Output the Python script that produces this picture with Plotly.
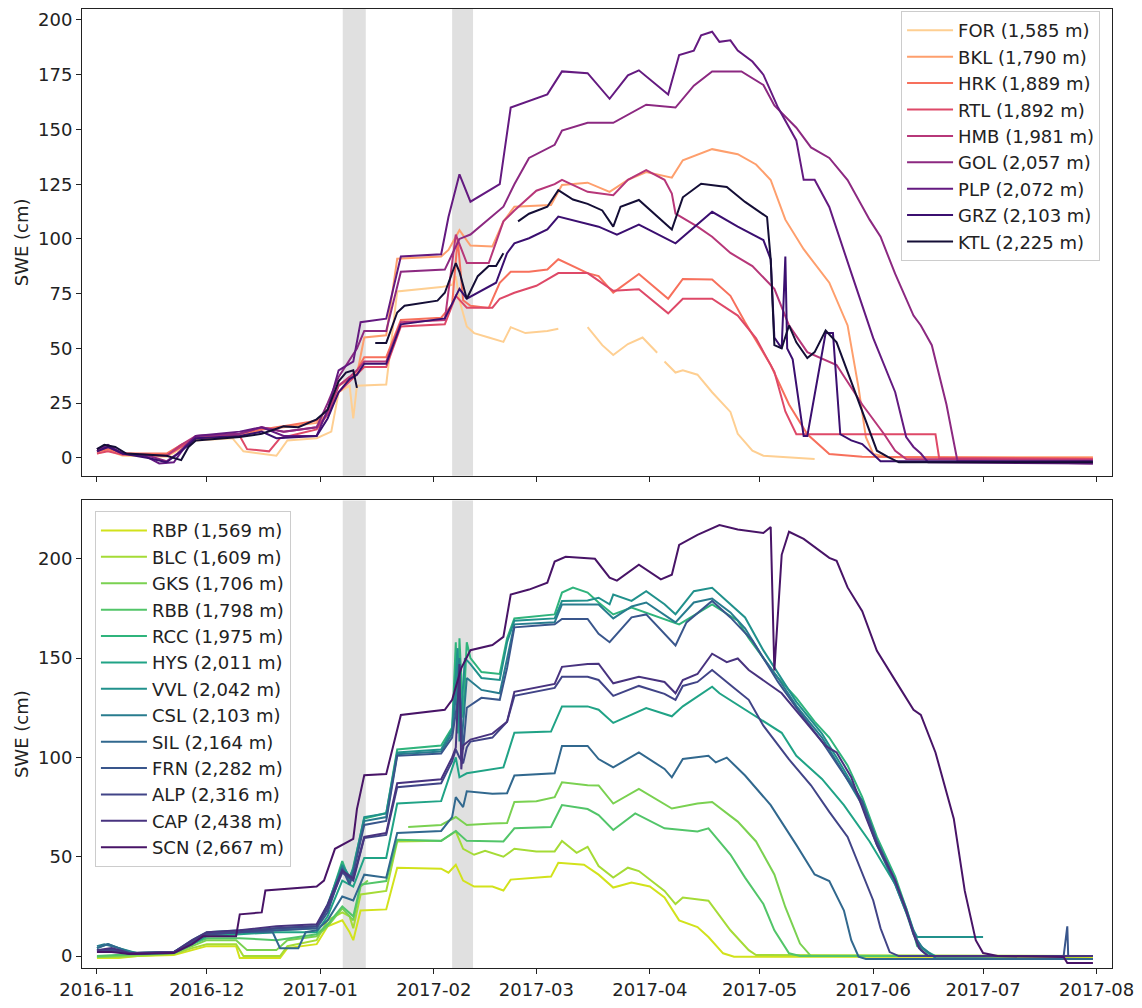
import plotly.graph_objects as go

# ---------------- data ----------------
# Top panel stations
FOR = [("2016-11-01",2),("2016-11-04",3.5),("2016-11-08",1),("2016-11-20",0.5),("2016-11-25",5),("2016-11-28",8),
       ("2016-12-08",9),("2016-12-11",3),("2016-12-20",1),("2016-12-23",8),("2016-12-31",9),
       ("2017-01-04",12),("2017-01-06",30),("2017-01-09",33),("2017-01-10",18),("2017-01-11",33),("2017-01-19",33.5),
       ("2017-01-22",76),("2017-02-03",78),("2017-02-06",79),("2017-02-07",83),("2017-02-08",72),("2017-02-10",60),
       ("2017-02-12",57),("2017-02-16",55),("2017-02-20",53),("2017-02-22",59.7),("2017-02-26",57),("2017-03-04",58),("2017-03-07",59),
       ("2017-03-08",None),("2017-03-15",59.7),("2017-03-19",51.5),("2017-03-22",47),("2017-03-26",52),("2017-03-30",55),("2017-04-03",48),
       ("2017-04-04",None),("2017-04-05",44),("2017-04-08",39),("2017-04-10",40),("2017-04-14",38),("2017-04-18",30),("2017-04-23",21),
       ("2017-04-25",11),("2017-04-29",3.3),("2017-05-02",1),("2017-05-16",-0.5)]
BKL = [("2016-11-01",3),("2016-11-04",4),("2016-11-08",2),("2016-11-20",1.5),("2016-11-24",6),("2016-11-28",9),
       ("2016-12-10",10),("2016-12-16",13),("2016-12-22",14),("2016-12-31",16),
       ("2017-01-03",20),("2017-01-06",33),("2017-01-09",37),("2017-01-11",38),("2017-01-13",55),("2017-01-19",56),
       ("2017-01-22",91),("2017-02-03",92),("2017-02-05",95),("2017-02-08",104),("2017-02-11",97),("2017-02-17",96.6),
       ("2017-02-20",108),("2017-02-23",114.7),("2017-03-05",115.5),("2017-03-08",124.6),("2017-03-15",125.7),("2017-03-21",121.5),
       ("2017-03-26",127),("2017-03-31",130.5),("2017-04-07",128),("2017-04-10",135.9),("2017-04-18",141),("2017-04-25",138.7),
       ("2017-04-30",134),("2017-05-04",126.9),("2017-05-08",108.8),("2017-05-13",95.3),("2017-05-20",80),("2017-05-25",60.5),
       ("2017-05-28",32),("2017-05-30",9.5),("2017-06-01",1.8),("2017-06-05",0.3),("2017-07-31",0.3)]
HRK = [("2016-11-01",3),("2016-11-04",4),("2016-11-09",2),("2016-11-20",2),("2016-11-24",6),("2016-11-28",9),
       ("2016-12-10",11),("2016-12-16",13),("2016-12-24",15),("2016-12-31",17),
       ("2017-01-03",22),("2017-01-06",33),("2017-01-09",36),("2017-01-11",40),("2017-01-13",46),("2017-01-19",46),
       ("2017-01-23",63),("2017-02-03",64),("2017-02-06",70),("2017-02-07 12:00",100),("2017-02-09",72),("2017-02-11",69.5),
       ("2017-02-16",68.5),("2017-02-19",80),("2017-02-22",85),("2017-02-27",85),("2017-03-04",86),("2017-03-07",90.7),
       ("2017-03-15",84.4),("2017-03-18",83),("2017-03-22",75.5),("2017-03-29",84),("2017-04-06",72.7),("2017-04-10",81.7),
       ("2017-04-18",81.5),("2017-04-23",74),("2017-04-27",62),("2017-05-04",42.4),("2017-05-09",24.4),("2017-05-14",10.8),
       ("2017-05-20",1.8),("2017-05-29",0.5),("2017-07-31",-0.3)]
RTL = [("2016-11-01",2),("2016-11-04",3),("2016-11-08",1.5),("2016-11-20",1),("2016-11-24",5),("2016-11-28",9),
       ("2016-12-10",10),("2016-12-12",4),("2016-12-18",3),("2016-12-21",9),("2016-12-31",13),
       ("2017-01-03",20),("2017-01-06",30),("2017-01-09",35),("2017-01-11",38),("2017-01-13",41.5),("2017-01-19",41.5),
       ("2017-01-23",60),("2017-02-04",61),("2017-02-07",74),("2017-02-10",68.6),("2017-02-17",68.6),("2017-02-19",72.7),
       ("2017-02-23",75.4),("2017-03-01",78.6),("2017-03-07",84.4),("2017-03-15",84.4),("2017-03-18",80.8),("2017-03-22",76.3),
       ("2017-03-29",77),("2017-04-06",66),("2017-04-10",72.7),("2017-04-18",72.7),("2017-04-25",65),("2017-04-30",54.6),
       ("2017-05-05",39.3),("2017-05-08",21.2),("2017-05-11",10.8),("2017-06-18",10.8),("2017-06-19",0),("2017-07-31",-0.5)]
HMB = [("2016-11-01",3),("2016-11-04",5),("2016-11-08",2),("2016-11-20",1),("2016-11-24",6),("2016-11-28",10),
       ("2016-12-10",11),("2016-12-16",14),("2016-12-22",12),("2016-12-31",14),
       ("2017-01-03",20),("2017-01-06",33),("2017-01-09",37),("2017-01-11",40),("2017-01-13",44),("2017-01-19",44),
       ("2017-01-23",62),("2017-02-04",63),("2017-02-07",102),("2017-02-10",89),("2017-02-16",89),("2017-02-20",108),
       ("2017-02-23",113),("2017-03-01",122),("2017-03-06",125),("2017-03-08",127),("2017-03-15",121.5),("2017-03-22",120),
       ("2017-03-26",127),("2017-03-31",131.4),("2017-04-05",127),("2017-04-07",120.7),("2017-04-08",111.6),("2017-04-14",105.6),
       ("2017-04-18",101),("2017-04-23",93.6),("2017-04-29",87.6),("2017-05-05",77.2),("2017-05-09",60.5),("2017-05-14",48.3),
       ("2017-05-22",42.4),("2017-05-29",24.4),("2017-06-04",10.8),("2017-06-07",3.3),("2017-06-10",-0.5),("2017-07-31",-1)]
GOL = [("2016-11-01",4),("2016-11-04",5),("2016-11-08",2),("2016-11-15",1),("2016-11-20",-1.5),("2016-11-23",2),("2016-11-28",10),
       ("2016-12-10",11),("2016-12-16",14),("2016-12-22",12),("2016-12-31",14),
       ("2017-01-03",25),("2017-01-06",37),("2017-01-09",45),("2017-01-11",50),("2017-01-13",58),("2017-01-19",58),
       ("2017-01-23",85),("2017-02-04",86),("2017-02-08",100),("2017-02-11",102),("2017-02-20",114.7),("2017-02-23",125),
       ("2017-02-27",137),("2017-03-06",143),("2017-03-08",149.5),("2017-03-15",153),("2017-03-22",153),("2017-03-26",156.8),
       ("2017-03-31",161.3),("2017-04-08",160),("2017-04-13",170),("2017-04-18",176.5),("2017-04-26",176.5),("2017-05-02",170.3),
       ("2017-05-05",161),("2017-05-11",150.8),("2017-05-15",141.8),("2017-05-20",137),("2017-05-25",126.9),("2017-05-31",108.8),
       ("2017-06-03",101),("2017-06-07",84),("2017-06-12",65),("2017-06-14",60.5),("2017-06-17",51.5),("2017-06-21",24.4),
       ("2017-06-23",6.3),("2017-06-24",-1.4),("2017-07-31",-2.5)]
PLP = [("2016-11-01",4),("2016-11-04",6),("2016-11-08",2),("2016-11-14",1),("2016-11-18",-2.5),("2016-11-22",-2),("2016-11-25",5),("2016-11-28",10),
       ("2016-12-10",12),("2016-12-16",14),("2016-12-22",10),("2016-12-31",10),
       ("2017-01-03",22),("2017-01-06",40),("2017-01-08",42),("2017-01-10",44),("2017-01-12",62),("2017-01-19",63.6),
       ("2017-01-23",92),("2017-02-03",93),("2017-02-05",110),("2017-02-08",129.5),("2017-02-11",117),("2017-02-16",122),
       ("2017-02-19",125),("2017-02-22",160),("2017-02-27",163),("2017-03-04",166),("2017-03-08",176.5),("2017-03-15",175.7),
       ("2017-03-21",164),("2017-03-26",174.7),("2017-03-29",177),("2017-04-06",166),("2017-04-09",184),("2017-04-13",186),
       ("2017-04-15",193),("2017-04-18",194.6),("2017-04-20",190),("2017-04-23",190.7),("2017-04-25",186),("2017-04-29",181),
       ("2017-05-02",175),("2017-05-06",160),("2017-05-11",145),("2017-05-13",127),("2017-05-16",127),("2017-05-20",114.6),
       ("2017-05-26",84.5),("2017-06-01",54.7),("2017-06-07",30),("2017-06-10",9.5),("2017-06-12",5),("2017-06-14",2),
       ("2017-06-16",-2),("2017-07-31",-2.5)]
GRZ = [("2016-11-01",3),("2016-11-04",5),("2016-11-08",2),("2016-11-15",0),("2016-11-20",-2),("2016-11-24",3),("2016-11-28",9),
       ("2016-12-10",10),("2016-12-16",12),("2016-12-20",9),("2016-12-31",10),
       ("2017-01-03",18),("2017-01-06",30),("2017-01-09",36),("2017-01-11",38),("2017-01-13",43),("2017-01-19",43),
       ("2017-01-23",61),("2017-02-04",63.7),("2017-02-08",77.2),("2017-02-10",72.7),("2017-02-18",80),("2017-02-21",93.5),
       ("2017-02-23",98),("2017-02-27",100.3),("2017-03-04",104.3),("2017-03-07",110.2),("2017-03-15",107),("2017-03-18",105.6),
       ("2017-03-23",102),("2017-03-29",106.5),("2017-04-08",98),("2017-04-18",112.4),("2017-04-25",105.6),("2017-05-02",99.5),
       ("2017-05-04",90.7),("2017-05-05",55),("2017-05-07",50),("2017-05-08",92),("2017-05-08 12:00",50),("2017-05-10",45),
       ("2017-05-13",10),("2017-05-14",10),("2017-05-19",57),("2017-05-21",57),("2017-05-23",10.8),("2017-05-26",8),
       ("2017-05-29",6.3),("2017-06-01",1.8),("2017-06-03",-1.5),("2017-07-31",-1.5)]
KTL = [("2016-11-01",4),("2016-11-03",6),("2016-11-06",5),("2016-11-09",2),("2016-11-20",1),("2016-11-24",-1),("2016-11-26",5),("2016-11-28",8),
       ("2016-12-10",9.5),("2016-12-16",11),("2016-12-22",14.4),("2016-12-26",14),("2016-12-31",17.6),
       ("2017-01-03",22),("2017-01-06",35),("2017-01-08",39),("2017-01-10",40),("2017-01-11",32),("2017-01-12",None),
       ("2017-01-16",52.5),("2017-01-19",52.5),("2017-01-22",66.4),("2017-01-24",69.5),("2017-02-02",71.8),("2017-02-04",75.4),
       ("2017-02-07",89),("2017-02-08",85),("2017-02-10",72.7),("2017-02-13",83),("2017-02-16",87.6),("2017-02-18",87.6),
       ("2017-02-20",93.5),("2017-02-21",None),("2017-02-24",108),("2017-02-27",111.5),("2017-03-04",114.7),("2017-03-07",122.3),
       ("2017-03-11",118),("2017-03-15",116),("2017-03-19",113),("2017-03-22",105.6),("2017-03-24",114.7),("2017-03-29",117.8),
       ("2017-04-07",104.3),("2017-04-10",119),("2017-04-15",125.2),("2017-04-22",123.7),("2017-04-27",116.9),("2017-05-03",110),
       ("2017-05-04",90.7),("2017-05-05",51.5),("2017-05-07",50),("2017-05-09",60.5),("2017-05-11",52.8),("2017-05-14",45.6),
       ("2017-05-16",48.3),("2017-05-19",58.2),("2017-05-22",52.8),("2017-05-25",39.3),("2017-05-29",21.2),("2017-06-02",3.3),
       ("2017-06-05",0.5),("2017-06-08",-2),("2017-07-31",-2)]

# Bottom panel stations
RBP = [("2016-11-01",-1),("2016-11-07",-1),("2016-11-12",0),("2016-11-22",0.5),("2016-11-27",3),("2016-12-01",5),
       ("2016-12-09",5),("2016-12-10",-1),("2016-12-21",-1),("2016-12-23",4),("2016-12-31",6),
       ("2017-01-03",15),("2017-01-07",18),("2017-01-09",12),("2017-01-10",8),("2017-01-11",16),("2017-01-12",23),("2017-01-19",23.5),
       ("2017-01-22",44.5),("2017-02-03",44),("2017-02-05",42),("2017-02-07",46),("2017-02-09",38),("2017-02-12",35),
       ("2017-02-17",35),("2017-02-20",33),("2017-02-22",38.5),("2017-03-05",40),("2017-03-07",47),("2017-03-14",46),
       ("2017-03-18",41),("2017-03-22",34.5),("2017-03-27",37),("2017-04-01",35),("2017-04-05",29.5),("2017-04-09",18),
       ("2017-04-14",14.6),("2017-04-17",9.6),("2017-04-21",1.4),("2017-04-24",-0.3),("2017-07-31",-0.5)]
BLC = [("2016-11-01",-0.5),("2016-11-07",-0.5),("2016-11-12",0),("2016-11-22",1),("2016-11-27",4),("2016-12-01",6),
       ("2016-12-09",6),("2016-12-11",0),("2016-12-21",0),("2016-12-23",5),("2016-12-31",8),
       ("2017-01-03",18),("2017-01-07",22),("2017-01-09",20),("2017-01-10",14),("2017-01-11",22),("2017-01-12",31),("2017-01-19",32.8),
       ("2017-01-22",57.7),("2017-02-03",58),("2017-02-07",62.7),("2017-02-09",54),("2017-02-12",51),("2017-02-15",53),
       ("2017-02-20",50),("2017-02-23",54),("2017-03-01",52.7),("2017-03-06",52.7),("2017-03-08",58),("2017-03-12",52),
       ("2017-03-15",55),("2017-03-18",45.3),("2017-03-22",39.5),("2017-03-26",44.5),("2017-03-29",42.8),("2017-04-05",32.8),
       ("2017-04-08",26.2),("2017-04-10",29.5),("2017-04-17",27.9),("2017-04-23",13),("2017-04-28",3),("2017-04-30",0.5),("2017-07-31",0)]
GKS = [("2016-11-01",-0.5),("2016-11-12",0.5),("2016-11-22",1.5),("2016-11-27",5),("2016-12-01",8),("2016-12-09",8),
       ("2016-12-12",3),("2016-12-20",3),("2016-12-23",8),("2016-12-31",10),
       ("2017-01-03",15),("2017-01-07",24),("2017-01-10",18),("2017-01-12",35),("2017-01-14",38),("2017-01-15",None),
       ("2017-01-25",65),("2017-02-03",66),("2017-02-07",70),("2017-02-10",66),("2017-02-17",66.8),("2017-02-21",67),
       ("2017-02-23",77.6),("2017-03-01",78),("2017-03-06",80),("2017-03-08",87.5),("2017-03-15",86),("2017-03-18",85.9),
       ("2017-03-22",76.8),("2017-03-29",84.2),("2017-04-07",74.3),("2017-04-14",76.8),("2017-04-18",77.6),("2017-04-25",67.7),
       ("2017-04-30",57.7),("2017-05-05",41.1),("2017-05-08",24.6),("2017-05-12",6.3),("2017-05-15",0),("2017-07-31",0)]
RBB = [("2016-11-01",0),("2016-11-12",1),("2016-11-22",2),("2016-11-27",6),("2016-12-01",9),("2016-12-10",9),("2016-12-20",8),
       ("2016-12-31",11),("2017-01-03",16),("2017-01-07",25),("2017-01-10",20),("2017-01-12",36),("2017-01-19",37.8),
       ("2017-01-22",58.6),("2017-02-03",58),("2017-02-07",63),("2017-02-10",58),("2017-02-20",57.7),("2017-02-23",64.3),
       ("2017-03-05",65),("2017-03-08",76),("2017-03-15",74),("2017-03-18",71),("2017-03-22",63.5),("2017-03-28",71.8),
       ("2017-04-05",64.3),("2017-04-14",62.7),("2017-04-17",64.3),("2017-04-23",51.1),("2017-04-27",39.5),("2017-05-02",26.2),
       ("2017-05-05",13),("2017-05-09",1.4),("2017-05-12",0),("2017-07-31",0)]
RCC = [("2016-11-01",3),("2016-11-07",3),("2016-11-12",1.5),("2016-11-22",2),("2016-11-27",7),("2016-12-01",11),
       ("2016-12-10",12),("2016-12-20",13),("2016-12-31",14),("2017-01-03",25),("2017-01-07",47.8),("2017-01-09",38),
       ("2017-01-10",45),("2017-01-13",69.3),("2017-01-19",72),("2017-01-22",104),("2017-02-03",106),("2017-02-06",115),
       ("2017-02-07",158),("2017-02-07 12:00",112),("2017-02-08",160),("2017-02-09",120),("2017-02-10",158),("2017-02-11",150),
       ("2017-02-14",143),("2017-02-19",142),("2017-02-21",160),("2017-02-23",170),("2017-03-06",172),("2017-03-08",183),
       ("2017-03-11",185.5),("2017-03-15",183),("2017-03-18",178),("2017-03-22",172),("2017-03-27",175.4),("2017-04-09",167),
       ("2017-04-18",177),("2017-04-25",168.8),("2017-04-28",160),("2017-05-02",150),("2017-05-06",140),("2017-05-11",130),
       ("2017-05-16",118),("2017-05-20",110),("2017-05-25",96),("2017-05-29",80),("2017-06-02",60),("2017-06-07",40),
       ("2017-06-10",24),("2017-06-12",12),("2017-06-13",5),("2017-06-15",3),("2017-06-17",0),("2017-07-31",0)]
HYS = [("2016-11-01",2),("2016-11-07",2),("2016-11-12",1),("2016-11-22",1.5),("2016-11-27",6),("2016-12-01",10),
       ("2016-12-10",11),("2016-12-20",12),("2016-12-31",12),("2017-01-03",20),("2017-01-07",38),("2017-01-10",35),
       ("2017-01-13",49.4),("2017-01-19",49.4),("2017-01-22",76.8),("2017-02-03",78),("2017-02-07",100),("2017-02-08",90),
       ("2017-02-10",92),("2017-02-17",94.2),("2017-02-20",95),("2017-02-23",112.4),("2017-03-05",113),("2017-03-08",125.7),
       ("2017-03-15",125.7),("2017-03-18",124),("2017-03-22",117.4),("2017-03-31",124.9),("2017-04-07",120.7),("2017-04-10",125.7),
       ("2017-04-18",135.6),("2017-04-20",132.3),("2017-04-27",124),("2017-05-02",118),("2017-05-07",112.4),("2017-05-11",100.8),
       ("2017-05-18",89.2),("2017-05-24",76),("2017-05-31",57.7),("2017-06-07",36.2),("2017-06-10",22),("2017-06-12",11),
       ("2017-06-14",5),("2017-06-16",2),("2017-06-18",0),("2017-07-31",0)]
VVL = [("2016-11-01",4),("2016-11-04",6),("2016-11-07",4),("2016-11-12",1.5),("2016-11-22",2),("2016-11-27",8),("2016-12-01",12),
       ("2016-12-10",13),("2016-12-20",14),("2016-12-31",15),("2017-01-03",26),("2017-01-07",46),("2017-01-09",40),
       ("2017-01-10",44),("2017-01-13",70),("2017-01-19",71.8),("2017-01-22",102.5),("2017-02-03",104),("2017-02-06",114),
       ("2017-02-07 12:00",155),("2017-02-08",108),("2017-02-09 12:00",150),("2017-02-11",147),("2017-02-14",140),
       ("2017-02-19",139),("2017-02-21",158),("2017-02-23",168.8),("2017-03-06",170),("2017-03-08",178.8),("2017-03-15",179),
       ("2017-03-18",180.4),("2017-03-21",177.1),("2017-03-22",182),("2017-03-27",178.8),("2017-03-31",183.7),("2017-04-05",177.1),
       ("2017-04-08",172.1),("2017-04-13",183.7),("2017-04-18",185.4),("2017-04-23",177.1),("2017-04-27",170.5),("2017-05-02",153.9),
       ("2017-05-06",142.3),("2017-05-11",128),("2017-05-18",112),("2017-05-22",100),("2017-05-29",78),("2017-06-02",58),
       ("2017-06-07",38),("2017-06-10",24),("2017-06-12",13),("2017-06-13",9.6),("2017-07-01",9.6)]
CSL = [("2016-11-01",5),("2016-11-03",6),("2016-11-07",4),("2016-11-12",1),("2016-11-22",2),("2016-11-27",7),("2016-12-01",11),
       ("2016-12-10",12),("2016-12-20",14),("2016-12-31",15),("2017-01-03",24),("2017-01-07",45),("2017-01-09",37),
       ("2017-01-10",43),("2017-01-13",68),("2017-01-19",70),("2017-01-22",101.6),("2017-02-03",103),("2017-02-06",112),
       ("2017-02-08",150),("2017-02-08 12:00",105),("2017-02-10",140),("2017-02-14",134),("2017-02-19",132.3),("2017-02-21",150),
       ("2017-02-23",167),("2017-03-06",168),("2017-03-08",177),("2017-03-15",177),("2017-03-18",177),("2017-03-22",170),
       ("2017-03-27",176),("2017-03-31",178),("2017-04-05",172),("2017-04-08",168),("2017-04-13",178),("2017-04-18",180),
       ("2017-04-23",173),("2017-04-27",165),("2017-05-02",150),("2017-05-06",140),("2017-05-11",126),("2017-05-18",110),
       ("2017-05-22",98),("2017-05-29",76),("2017-06-02",56),("2017-06-07",36),("2017-06-10",22),("2017-06-12",12),
       ("2017-06-13",8),("2017-06-14 12:00",4),("2017-06-16",2),("2017-06-18",-1),("2017-07-31",-1.5)]
SIL = [("2016-11-01",4),("2016-11-04",6),("2016-11-07",4),("2016-11-10",1.5),("2016-11-22",2),("2016-11-27",7),("2016-12-01",11),
       ("2016-12-10",12),("2016-12-19",12),("2016-12-21",4),("2016-12-26",4),("2016-12-28",12),("2016-12-31",13),
       ("2017-01-03",18),("2017-01-07",30),("2017-01-10",28),("2017-01-13",41),("2017-01-19",39.5),("2017-01-22",62),
       ("2017-02-03",63),("2017-02-06",70),("2017-02-07",80),("2017-02-09",75),("2017-02-10",83),("2017-02-17",81.7),
       ("2017-02-21",82),("2017-02-23",90.9),("2017-03-06",92),("2017-03-08",105.8),("2017-03-15",105.8),("2017-03-18",99.2),
       ("2017-03-22",95),("2017-03-29",102.5),("2017-04-05",94.2),("2017-04-07",90),("2017-04-10",99.2),("2017-04-17",100.8),
       ("2017-04-19",97.5),("2017-04-22",99.9),("2017-04-27",90.9),("2017-05-04",76),("2017-05-11",56),("2017-05-16",41.1),
       ("2017-05-20",37.8),("2017-05-24",22.9),("2017-05-26",8),("2017-05-28",-0.3),("2017-05-30",-1.5),("2017-07-31",-1.5)]
FRN = [("2016-11-01",3),("2016-11-05",3),("2016-11-10",1),("2016-11-22",2),("2016-11-27",7),("2016-12-01",11),
       ("2016-12-10",12),("2016-12-20",13),("2016-12-31",14),("2017-01-03",22),("2017-01-07",44),("2017-01-09",36),
       ("2017-01-10",42),("2017-01-13",66),("2017-01-19",68),("2017-01-22",100.8),("2017-02-03",102),("2017-02-06",110),
       ("2017-02-08",135),("2017-02-09",104),("2017-02-10",125),("2017-02-14",130),("2017-02-19",129),("2017-02-21",145),
       ("2017-02-23",165.5),("2017-03-06",167),("2017-03-08",169.7),("2017-03-15",169.7),("2017-03-18",162.2),("2017-03-21",158),
       ("2017-03-27",170.5),("2017-03-31",172),("2017-04-05",162),("2017-04-08",156.4),("2017-04-11",168),("2017-04-18",178.8),
       ("2017-04-23",170.5),("2017-04-29",158.8),("2017-05-02",150),("2017-05-06",138),("2017-05-11",125),("2017-05-18",108),
       ("2017-05-22",97),("2017-05-29",78),("2017-06-02",58),("2017-06-07",38),("2017-06-10",23),("2017-06-12",12),
       ("2017-06-14",3),("2017-06-16",0),("2017-07-23",0),("2017-07-24",15),("2017-07-24 06:00",0),("2017-07-31",0)]
ALP = [("2016-11-01",3),("2016-11-05",3),("2016-11-10",1),("2016-11-22",2),("2016-11-27",7),("2016-12-01",11),
       ("2016-12-10",12),("2016-12-20",14),("2016-12-31",15),("2017-01-03",24),("2017-01-07",42),("2017-01-10",38),
       ("2017-01-13",59.4),("2017-01-19",61),("2017-01-22",85),("2017-02-03",87),("2017-02-06",98),("2017-02-07",104),
       ("2017-02-08",100),("2017-02-09",97),("2017-02-10",105),("2017-02-11",108),("2017-02-17",110),("2017-02-21",118),
       ("2017-02-23",131),("2017-03-01",133),("2017-03-06",135),("2017-03-08",140.6),("2017-03-15",140.6),("2017-03-18",139),
       ("2017-03-22",131),("2017-03-29",136),("2017-04-05",132),("2017-04-08",129),("2017-04-10",136),("2017-04-14",138),
       ("2017-04-18",144),("2017-04-24",135),("2017-04-28",129),("2017-05-02",116),("2017-05-09",99),("2017-05-15",86),
       ("2017-05-20",72.6),("2017-05-25",60),("2017-05-29",42),("2017-06-01",28),("2017-06-03",14),("2017-06-05 12:00",2),
       ("2017-06-08",0),("2017-07-31",0)]
CAP = [("2016-11-01",3),("2016-11-05",4),("2016-11-10",1.5),("2016-11-22",2),("2016-11-27",8),("2016-12-01",12),
       ("2016-12-10",13),("2016-12-20",15),("2016-12-31",16),("2017-01-03",26),("2017-01-07",43),("2017-01-10",39),
       ("2017-01-13",60),("2017-01-19",62),("2017-01-22",87),("2017-02-03",89),("2017-02-06",100),("2017-02-07",105),
       ("2017-02-08",147),("2017-02-08 12:00",94),("2017-02-09",106),("2017-02-11",109),("2017-02-17",112),("2017-02-21",118),
       ("2017-02-23",133),("2017-03-01",135),("2017-03-06",137),("2017-03-08",145.6),("2017-03-15",147),("2017-03-18",147.2),
       ("2017-03-22",137.3),("2017-03-29",140.6),("2017-04-05",138),("2017-04-08",132.3),("2017-04-10",139),("2017-04-14",142),
       ("2017-04-18",152.2),("2017-04-22",148),("2017-04-25",149.8),("2017-04-28",144),("2017-05-02",139),("2017-05-07",132.3),
       ("2017-05-13",119),("2017-05-16",112.4),("2017-05-19",105.8),("2017-05-22",102.5),("2017-05-26",90),("2017-05-30",70),
       ("2017-06-02",56),("2017-06-07",38),("2017-06-10",23),("2017-06-12",11),("2017-06-13 12:00",4),("2017-06-16",0),("2017-07-31",0)]
SCN = [("2016-11-01",2),("2016-11-05",2),("2016-11-10",1),("2016-11-22",1.5),("2016-11-27",6),("2016-11-30",10),
       ("2016-12-09",10),("2016-12-10",21),("2016-12-16",22),("2016-12-17",33),("2016-12-31",35),("2017-01-02",38),
       ("2017-01-05",54),("2017-01-10",59),("2017-01-11",74),("2017-01-13",91),("2017-01-19",91.6),("2017-01-23",121.4),
       ("2017-02-04",124),("2017-02-06",129),("2017-02-08 12:00",145),("2017-02-11",154),("2017-02-17",156.6),("2017-02-20",160.7),
       ("2017-02-22",182),("2017-02-27",184.5),("2017-03-04",188),("2017-03-06",198.6),("2017-03-09",201),("2017-03-17",200),
       ("2017-03-21",190.5),("2017-03-23",189),("2017-03-29",197),("2017-04-04",189.6),("2017-04-07",192),("2017-04-09",207),
       ("2017-04-14",212),("2017-04-20",217),("2017-04-25",214.7),("2017-05-02",213),("2017-05-04",216),("2017-05-05",143.8),
       ("2017-05-07",202),("2017-05-09",213.6),("2017-05-13",210),("2017-05-20",200.5),("2017-05-22",199),("2017-05-25",185.6),
       ("2017-05-29",173.6),("2017-06-02",153.7),("2017-06-07",138.8),("2017-06-12",124),("2017-06-14",121.4),("2017-06-18",102.5),
       ("2017-06-23",69.2),("2017-06-26",32.8),("2017-06-29",8),("2017-07-01",1.5),("2017-07-05",0),("2017-07-23",-0.5),
       ("2017-07-24",-3.5),("2017-07-31",-3.5)]

TOP_SERIES = [("FOR (1,585 m)", FOR), ("BKL (1,790 m)", BKL), ("HRK (1,889 m)", HRK), ("RTL (1,892 m)", RTL),
              ("HMB (1,981 m)", HMB), ("GOL (2,057 m)", GOL), ("PLP (2,072 m)", PLP), ("GRZ (2,103 m)", GRZ),
              ("KTL (2,225 m)", KTL)]
BOT_SERIES = [("RBP (1,569 m)", RBP), ("BLC (1,609 m)", BLC), ("GKS (1,706 m)", GKS), ("RBB (1,798 m)", RBB),
              ("RCC (1,975 m)", RCC), ("HYS (2,011 m)", HYS), ("VVL (2,042 m)", VVL), ("CSL (2,103 m)", CSL),
              ("SIL (2,164 m)", SIL), ("FRN (2,282 m)", FRN), ("ALP (2,316 m)", ALP), ("CAP (2,438 m)", CAP),
              ("SCN (2,667 m)", SCN)]
SHADED_PERIODS = [("2017-01-07 03:00", "2017-01-13 10:00"), ("2017-02-06 00:00", "2017-02-11 17:00")]

# ---------------- styles ----------------
TOP_COLORS = ["#fecf92", "#fe9f6d", "#f7705c", "#de4968", "#b73779", "#8c2981", "#641a80", "#3b0f70", "#140e36"]
BOT_COLORS = ["#d2e21b", "#a5db36", "#7ad151", "#52c569", "#2fb47c", "#20a386", "#21918c", "#287c8e",
              "#31688e", "#39568c", "#414487", "#48337f", "#481467"]
FONT = "DejaVu Sans"
AX = "#222222"
FS = 18

fig = go.Figure()
for (name, series), color in zip(TOP_SERIES, TOP_COLORS):
    fig.add_trace(go.Scatter(x=[d for d, _ in series], y=[v for _, v in series], name=name, mode="lines",
                             line=dict(color=color, width=2), xaxis="x", yaxis="y", legend="legend"))
for (name, series), color in zip(BOT_SERIES, BOT_COLORS):
    fig.add_trace(go.Scatter(x=[d for d, _ in series], y=[v for _, v in series], name=name, mode="lines",
                             line=dict(color=color, width=2), xaxis="x2", yaxis="y2", legend="legend2"))

shapes = []
for x0, x1 in SHADED_PERIODS:
    for xr, yr in (("x", "y domain"), ("x2", "y2 domain")):
        shapes.append(dict(type="rect", xref=xr, yref=yr, x0=x0, x1=x1, y0=0, y1=1,
                           fillcolor="#e0e0e0", line=dict(width=0), layer="below"))

XRANGE = ["2016-10-27 22:00", "2017-08-05 05:00"]
axis_common = dict(showline=True, linecolor=AX, linewidth=1, mirror=True, ticks="outside", ticklen=5,
                   tickcolor=AX, tickwidth=1, showgrid=False, zeroline=False,
                   tickfont=dict(family=FONT, size=FS, color=AX))
legend_common = dict(bgcolor="rgba(255,255,255,0.8)", bordercolor="#cccccc", borderwidth=1, itemwidth=46,
                     font=dict(family=FONT, size=FS, color=AX), xanchor="left", yanchor="top")

fig.update_layout(
    width=1142, height=1008,
    margin=dict(l=82, r=25, t=8, b=30),
    plot_bgcolor="white", paper_bgcolor="white",
    font=dict(family=FONT, size=FS, color=AX),
    shapes=shapes,
    xaxis=dict(domain=[0, 1], anchor="y", type="date", range=XRANGE, tick0="2016-11-01", dtick="M1",
               showticklabels=False, **axis_common),
    xaxis2=dict(domain=[0, 1], anchor="y2", type="date", range=XRANGE, tick0="2016-11-01", dtick="M1",
                tickformat="%Y-%m", matches="x", **axis_common),
    yaxis=dict(domain=[0.5134, 1], anchor="x", range=[-8.1, 205], tick0=0, dtick=25,
               title=dict(text="SWE (cm)", standoff=4, font=dict(family=FONT, size=FS, color=AX)), **axis_common),
    yaxis2=dict(domain=[0, 0.4876], anchor="x2", range=[-6, 229.4], tick0=0, dtick=50,
                title=dict(text="SWE (cm)", standoff=4, font=dict(family=FONT, size=FS, color=AX)), **axis_common),
    legend=dict(x=0.7952, y=0.9978, **legend_common),
    legend2=dict(x=0.01256, y=0.4763, **legend_common),
    showlegend=True,
)

fig.write_html("out.html")
